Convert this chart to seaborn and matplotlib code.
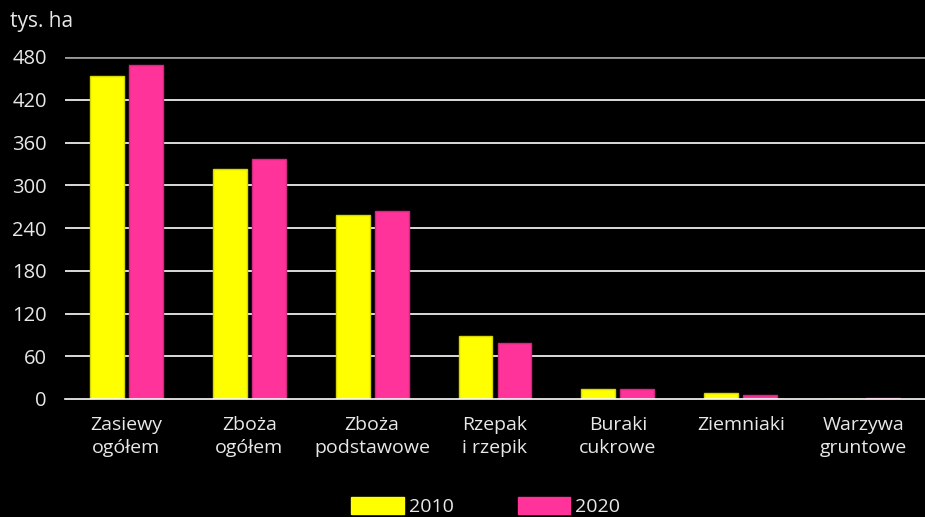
import matplotlib
matplotlib.use("Agg")
import matplotlib.pyplot as plt
import seaborn as sns
import pandas as pd
from matplotlib.patches import Patch

categories = ["Zasiewy\nogółem", "Zboża\nogółem", "Zboża\npodstawowe", "Rzepak\ni rzepik",
              "Buraki\ncukrowe", "Ziemniaki", "Warzywa\ngruntowe"]
years = ["2010", "2020"]
values_2010 = [453, 323, 258, 88, 14.5, 8.5, 0.3]
values_2020 = [469, 337, 264, 79, 14.5, 5.6, 1.5]
yticks = [0, 60, 120, 180, 240, 300, 360, 420, 480]

df = pd.DataFrame({
    "kategoria": categories * 2,
    "rok": [years[0]] * len(categories) + [years[1]] * len(categories),
    "wartosc": values_2010 + values_2020,
})

sns.set_style("dark")
plt.rcParams["font.family"] = ["Open Sans", "DejaVu Sans"]
txt = "#e8e8e8"
palette = {"2010": "#FFFF00", "2020": "#FF3399"}
edges = {"2010": "#d6d600", "2020": "#d02a80"}

fig = plt.figure(figsize=(9.25, 5.17), dpi=100, facecolor="black")
ax = fig.add_axes([65 / 925, (517 - 399) / 517, 860 / 925, 342 / 517])
ax.set_facecolor("black")

sns.barplot(data=df, x="kategoria", y="wartosc", hue="rok", palette=palette,
            width=0.634, gap=0.13, ax=ax, legend=False, saturation=1)
for cont, yr in zip(ax.containers, years):
    for b in cont:
        b.set_edgecolor(edges[yr])
        b.set_linewidth(1)

ax.set_xlim(-0.5, 6.5)
ax.set_ylim(0, 480)
ax.set_yticks(yticks)
ax.set_yticklabels([str(v) for v in yticks], color=txt, fontsize=14.5)
ax.yaxis.grid(True, color="white", linewidth=1.2)
ax.xaxis.grid(False)
ax.set_axisbelow(True)
gl = ax.get_ygridlines()
gl[-1].set_color("#9a9a9a")
gl[-1].set_linewidth(2)
gl[0].set_visible(False)
ax.tick_params(axis="y", length=0, pad=13)
ax.set_xticks(range(len(categories)))
ax.set_xticklabels(categories, color=txt, fontsize=14, linespacing=1.4)
ax.tick_params(axis="x", which="major", length=0, pad=12)
ax.set_xticks([i - 0.5 for i in range(len(categories))], minor=True)
ax.tick_params(axis="x", which="minor", length=6, width=1.2, color="white", direction="out")
ax.set_xlabel("")
ax.set_ylabel("")
for s in ["top", "right", "left"]:
    ax.spines[s].set_visible(False)
ax.spines["bottom"].set_color("white")
ax.spines["bottom"].set_linewidth(1.2)

fig.text(10 / 925, 1 - 22 / 517, "tys. ha", color=txt, fontsize=15, va="center", ha="left")

handles = [Patch(facecolor=palette[y], edgecolor=palette[y]) for y in years]
fig.legend(handles, years, loc="upper center", bbox_to_anchor=(0.525, 1 - 487 / 517),
           ncol=2, frameon=False, fontsize=14, labelcolor=txt, handlelength=2.7,
           handleheight=1.0, handletextpad=0.25, columnspacing=3.3, borderpad=0.0)

fig.savefig("out.png", dpi=100, facecolor="black")
